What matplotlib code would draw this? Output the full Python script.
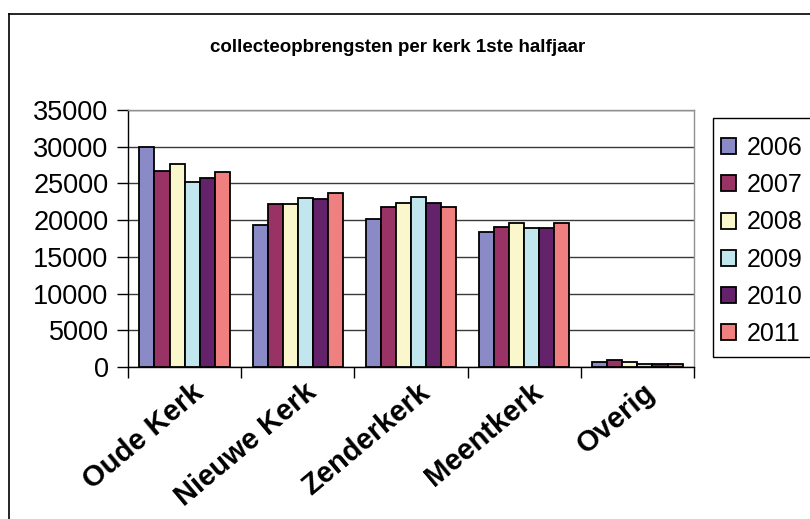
import matplotlib
matplotlib.use("Agg")
import matplotlib.pyplot as plt
import numpy as np
from matplotlib.lines import Line2D
from matplotlib.patches import Rectangle

categories = ["Oude Kerk", "Nieuwe Kerk", "Zenderkerk", "Meentkerk", "Overig"]
years = ["2006", "2007", "2008", "2009", "2010", "2011"]
values = {
    "2006": [30000, 19300, 20200, 18400, 640],
    "2007": [26700, 22250, 21800, 19100, 900],
    "2008": [27700, 22250, 22400, 19550, 620],
    "2009": [25200, 23050, 23100, 18900, 400],
    "2010": [25700, 22850, 22400, 18900, 400],
    "2011": [26600, 23700, 21800, 19550, 450],
}
colors = ["#8A8AC6", "#993366", "#FAF7CC", "#C2E6EE", "#64226A", "#F08080"]
yticks = [0, 5000, 10000, 15000, 20000, 25000, 30000, 35000]
title = "collecteopbrengsten per kerk 1ste halfjaar"

plt.rcParams['font.family'] = ['Liberation Sans', 'DejaVu Sans']

W, H = 810, 519
fig = plt.figure(figsize=(W / 100, H / 100), dpi=100)

# outer chart border (left and top visible)
fig.add_artist(Line2D([9 / W, 9 / W], [0, 1 - 14 / H], transform=fig.transFigure, color="black", lw=1.2))
fig.add_artist(Line2D([9 / W, 1], [1 - 14 / H, 1 - 14 / H], transform=fig.transFigure, color="black", lw=1.2))

left, right, top, bottom = 128, 694, 110, 367
ax = fig.add_axes([left / W, 1 - bottom / H, (right - left) / W, (bottom - top) / H])

n = len(years)
bw = 1.0 / (n + 1.5)
x = np.arange(len(categories))
for i, (yr, c) in enumerate(zip(years, colors)):
    offs = (i - (n - 1) / 2) * bw
    ax.bar(x + offs, values[yr], width=bw, color=c, edgecolor="black", linewidth=1.3, label=yr, zorder=3)

ax.set_xlim(-0.5, len(categories) - 0.5)
ax.set_ylim(0, 35000)
ax.set_yticks(yticks)
ax.set_yticklabels([str(v) for v in yticks], fontsize=19.5)
ax.yaxis.grid(True, color="#3a3a3a", linewidth=1, zorder=0)
ax.set_axisbelow(True)

ax.set_xticks(np.arange(len(categories) + 1) - 0.5, minor=False)
ax.set_xticklabels([])
ax.tick_params(axis="x", direction="out", length=8, width=1, color="black")
ax.tick_params(axis="y", direction="out", length=8, width=1, color="black", pad=6)

for i, cat in enumerate(categories):
    ax.annotate(cat, xy=(i + 0.05, 0), xycoords=("data", "axes fraction"),
                xytext=(0, -8), textcoords="offset points",
                rotation=40, rotation_mode="anchor", ha="right", va="top",
                fontsize=21, fontweight="bold")

ax.spines["left"].set_color("black")
ax.spines["bottom"].set_color("black")
ax.spines["top"].set_color("#909090")
ax.spines["right"].set_color("#909090")
for s in ax.spines.values():
    s.set_linewidth(1)

fig.text(398 / W, 1 - 47 / H, title, ha="center", va="center", fontsize=13.5, fontweight="bold")

# legend frame
fig.add_artist(Rectangle((713 / W, 1 - 357 / H), 120 / W, (357 - 118) / H,
                         transform=fig.transFigure, facecolor="white", edgecolor="black", lw=1))
handles, labels = ax.get_legend_handles_labels()
leg = fig.legend(handles, labels, loc="upper left", bbox_to_anchor=(721 / W, 1 - 136 / H),
                 fontsize=18, frameon=False,
                 handlelength=0.6, handleheight=0.6, handletextpad=0.45,
                 labelspacing=0.53, borderpad=0, borderaxespad=0)
leg.set_zorder(5)

fig.savefig("out.png", dpi=100)
